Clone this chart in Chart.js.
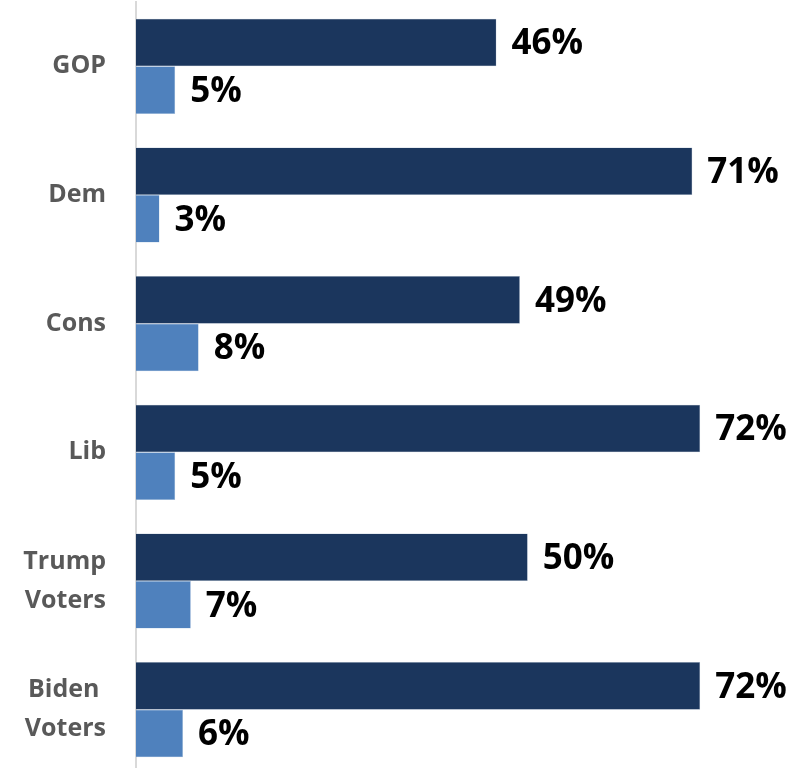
<!DOCTYPE html>
<html>
<head>
<meta charset="utf-8">
<script src="https://cdn.jsdelivr.net/npm/chart.js@4"></script>
<style>
  html, body { margin: 0; padding: 0; background: #fff; overflow: hidden; }
  #wrap { width: 802px; height: 774px; position: relative; }
</style>
</head>
<body>
<div id="wrap"><canvas id="chart"></canvas></div>
<script>
const categories = ["GOP", "Dem", "Cons", "Lib", ["Trump", "Voters"], ["Biden ", "Voters"]];
const seriesA = [46, 71, 49, 72, 50, 72];
const seriesB = [5, 3, 8, 5, 7, 6];

const valueLabels = {
  id: "valueLabels",
  afterDatasetsDraw(chart) {
    const ctx = chart.ctx;
    ctx.save();
    ctx.font = "bold 35px 'Open Sans', sans-serif";
    ctx.fillStyle = "#000";
    ctx.textAlign = "left";
    ctx.textBaseline = "middle";
    chart.data.datasets.forEach((ds, i) => {
      chart.getDatasetMeta(i).data.forEach((bar, j) => {
        ctx.fillText(ds.data[j] + "%", bar.x + 15, bar.y + 2);
      });
    });
    ctx.restore();
  }
};

new Chart(document.getElementById("chart"), {
  type: "bar",
  data: {
    labels: categories,
    datasets: [
      { data: seriesA, backgroundColor: "#1b365d", borderColor: "#a9b8cc", borderWidth: 0.5 },
      { data: seriesB, backgroundColor: "#4f81bd", borderColor: "#a9c1dd", borderWidth: 0.5 }
    ]
  },
  options: {
    indexAxis: "y",
    responsive: true,
    maintainAspectRatio: false,
    animation: false,
    layout: { autoPadding: false, padding: { top: 2, right: 0, bottom: 0, left: 0 } },
    datasets: { bar: { categoryPercentage: 0.74, barPercentage: 1 } },
    plugins: { legend: { display: false }, tooltip: { enabled: false } },
    scales: {
      x: { display: false, min: 0, max: 85 },
      y: {
        afterFit(scale) { scale.width = 136; scale.paddingTop = 0; scale.paddingBottom = 0; },
        grid: { display: false, drawTicks: false },
        border: { display: true, color: "#d9d9d9", width: 2 },
        ticks: {
          crossAlign: "near",
          padding: 30,
          color: "#595959",
          font: { family: "'Open Sans', sans-serif", size: 25, weight: "bold", lineHeight: 1.56 }
        }
      }
    }
  },
  plugins: [valueLabels]
});
</script>
</body>
</html>
